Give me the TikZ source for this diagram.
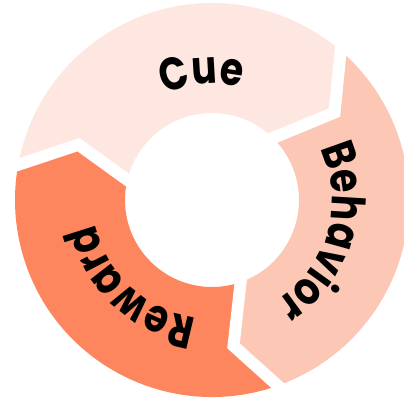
\documentclass[tikz,border=0pt]{standalone}
\usepackage{fontspec}
\newfontfamily\ringfont{Poppins}[FakeStretch=0.82]
\usetikzlibrary{calc,decorations.text}
\definecolor{cuefill}{HTML}{FFE7E1}
\definecolor{behfill}{HTML}{FCC7B4}
\definecolor{rewfill}{HTML}{FD865E}
\newcommand{\rout}{197}
\newcommand{\rin}{87}

\begin{document}
\begin{tikzpicture}[x=1pt, y=1pt,
  gap/.style={draw=white, line width=12pt, line join=miter},
  lab/.style={decorate, decoration={text along path, text align=center,
      text={|\ringfont\bfseries\fontsize{46}{46}\selectfont|#1}}}]
\useasboundingbox (-212,-201) rectangle (192,200);
\clip (-212,-201) rectangle (192,200);
% boundary points: outer, tip, inner
\coordinate (ao) at (49.2:\rout);  \coordinate (am) at (35.5:150.5);  \coordinate (ai) at (45.5:\rin);
\coordinate (bo) at (-70.5:\rout); \coordinate (bm) at (-81.6:147.4); \coordinate (bi) at (-70.8:\rin);
\coordinate (co) at (169.7:\rout); \coordinate (cm) at (157.5:144.5); \coordinate (ci) at (166.7:\rin);
% ring segments
\fill[cuefill] (co) arc[start angle=169.7, end angle=49.2, radius=\rout] -- (am) -- (ai)
  arc[start angle=45.5, end angle=166.7, radius=\rin] -- (cm) -- cycle;
\fill[behfill] (ao) arc[start angle=49.2, end angle=-70.5, radius=\rout] -- (bm) -- (bi)
  arc[start angle=-70.8, end angle=45.5, radius=\rin] -- (am) -- cycle;
\fill[rewfill] (bo) arc[start angle=-70.5, end angle=-190.3, radius=\rout] -- (cm) -- (ci)
  arc[start angle=-193.3, end angle=-70.8, radius=\rin] -- (bm) -- cycle;
% white gaps
\foreach \p in {a,b,c} \draw[gap] ($(\p m)!1.3!(\p o)$) -- (\p m) -- ($(\p m)!1.5!(\p i)$);
% labels
\path[lab=Cue] (154.7:116) arc[start angle=154.7, end angle=34.7, radius=116];
\path[lab=Behavior] (44:120) arc[start angle=44, end angle=-76, radius=120];
\path[lab=Reward] (287:119) arc[start angle=287, end angle=167, radius=119];
\end{tikzpicture}
\end{document}
